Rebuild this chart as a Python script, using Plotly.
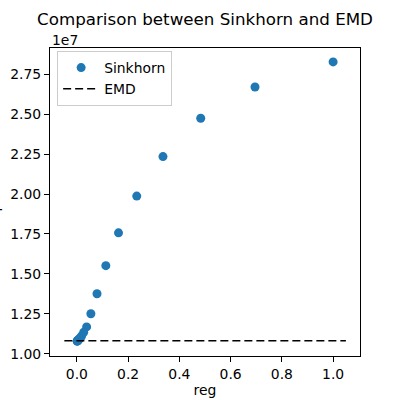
import plotly.graph_objects as go

# Data
reg = [0.001, 0.001438, 0.002069, 0.002976, 0.004281, 0.006158, 0.008859,
       0.01274, 0.01833, 0.02637, 0.03793, 0.05456, 0.07848, 0.1129,
       0.1624, 0.2336, 0.3360, 0.4833, 0.6952, 1.0]
sinkhorn = [1.080e7, 1.081e7, 1.082e7, 1.083e7, 1.085e7, 1.088e7, 1.093e7,
            1.100e7, 1.112e7, 1.135e7, 1.169e7, 1.251e7, 1.376e7, 1.552e7,
            1.757e7, 1.987e7, 2.234e7, 2.474e7, 2.669e7, 2.826e7]
emd = 1.082e7
ytick_vals = [1.0e7, 1.25e7, 1.5e7, 1.75e7, 2.0e7, 2.25e7, 2.5e7, 2.75e7]
xtick_vals = [0.0, 0.2, 0.4, 0.6, 0.8, 1.0]

span = max(reg) - min(reg)
line_x = [min(reg) - 0.05 * span, max(reg) + 0.05 * span]

FONT = "DejaVu Sans"

fig = go.Figure()
fig.add_trace(go.Scatter(
    x=reg, y=sinkhorn, mode="markers", name="Sinkhorn",
    marker=dict(color="#1f77b4", size=9, line=dict(width=0)),
))
fig.add_trace(go.Scatter(
    x=line_x, y=[emd, emd], mode="lines", name="EMD",
    line=dict(color="black", width=1.6, dash="8px,4px"),
))

fig.update_layout(
    width=400, height=400,
    margin=dict(l=50, r=40, t=48, b=44, autoexpand=False),
    paper_bgcolor="white", plot_bgcolor="white",
    font=dict(family=FONT, size=14, color="black"),
    title=dict(text="Comparison between Sinkhorn and EMD", x=0.5125, xanchor="center",
               y=0.952, yanchor="middle", font=dict(size=16.7, family=FONT)),
    showlegend=True,
    legend=dict(x=0.023, y=0.99, xanchor="left", yanchor="top",
                bgcolor="rgba(255,255,255,0.8)", bordercolor="#cccccc", borderwidth=1,
                font=dict(size=13.9, family=FONT), itemwidth=36, tracegroupgap=0),
)
fig.update_xaxes(
    range=[-0.105, 1.105], tickvals=xtick_vals,
    ticktext=[f"{v:.1f}" for v in xtick_vals],
    showline=True, linecolor="black", linewidth=1, mirror=True,
    ticks="outside", ticklen=5, tickcolor="black", showgrid=False, zeroline=False,
    title=dict(text="reg", standoff=4, font=dict(size=13.9)),
    tickfont=dict(size=13.9), automargin=False,
)
fig.update_yaxes(
    range=[0.987e7, 2.913e7], tickvals=ytick_vals,
    ticktext=[f"{v/1e7:.2f}" for v in ytick_vals],
    showline=True, linecolor="black", linewidth=1, mirror=True,
    ticks="outside", ticklen=5, tickcolor="black", showgrid=False, zeroline=False,
    tickfont=dict(size=13.9), automargin=False,
)
fig.add_annotation(text="1e7", xref="paper", yref="paper", x=0.0, y=1.0,
                   xanchor="left", yanchor="bottom", showarrow=False,
                   font=dict(size=13.9, family=FONT), yshift=-2)
fig.add_annotation(text="Transport cost", xref="paper", yref="paper",
                   x=-0.18, y=0.51, textangle=-90, xanchor="center", yanchor="middle",
                   showarrow=False, font=dict(size=13.9, family=FONT))

fig.write_html("out.html")
